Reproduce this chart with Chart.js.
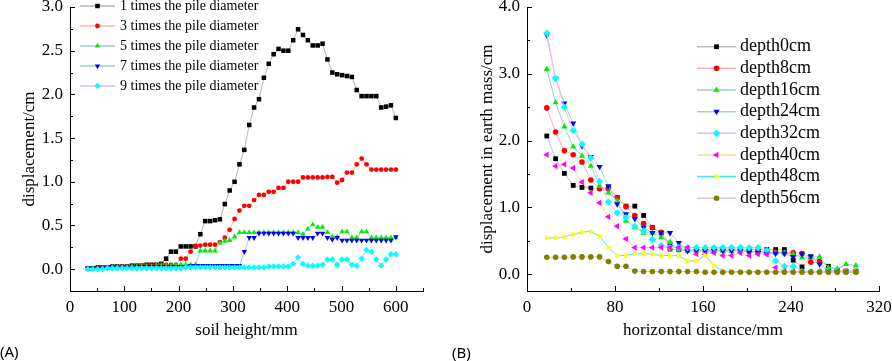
<!DOCTYPE html>
<html>
<head>
<meta charset="utf-8">
<script src="https://cdn.jsdelivr.net/npm/chart.js@4.4.0/dist/chart.umd.min.js"></script>
<style>
  html, body { margin: 0; padding: 0; background: #fff; }
  #wrap { position: relative; width: 892px; height: 361px; }
  .box { position: absolute; top: 0; width: 446px; height: 361px; }
</style>
</head>
<body>
<div id="wrap">
  <div class="box" style="left:0"><canvas id="chartA" width="446" height="361"></canvas></div>
  <div class="box" style="left:446px"><canvas id="chartB" width="446" height="361"></canvas></div>
</div>
<script>
// ---------- panel (A): displacement vs soil height ----------
const soilHeight = [33, 42, 51, 60, 69, 78, 87, 96, 105, 114, 123, 132, 141, 150, 159, 168,
  177, 186, 195, 204, 213, 222, 231, 240, 249, 258, 267, 276, 285, 294, 303, 312,
  321, 330, 339, 348, 357, 366, 375, 384, 393, 402, 411, 420, 429, 438, 447, 456,
  465, 474, 483, 492, 501, 510, 519, 528, 537, 546, 555, 564, 573, 582, 591, 600];

const pile1 = [0.01, 0.01, 0.02, 0.02, 0.02, 0.03, 0.03, 0.03, 0.03, 0.04, 0.04, 0.04, 0.05, 0.05, 0.05, 0.06,
  0.12, 0.20, 0.20, 0.26, 0.26, 0.26, 0.26, 0.40, 0.55, 0.55, 0.56, 0.57, 0.745, 0.90, 1.00, 1.20,
  1.365, 1.65, 1.85, 1.945, 2.19, 2.35, 2.46, 2.52, 2.50, 2.50, 2.62, 2.745, 2.68, 2.62, 2.56, 2.56,
  2.58, 2.40, 2.25, 2.23, 2.22, 2.21, 2.20, 2.05, 1.98, 1.98, 1.98, 1.98, 1.85, 1.86, 1.875, 1.73];
const pile3 = [0.01, 0.01, 0.01, 0.02, 0.02, 0.02, 0.02, 0.03, 0.03, 0.03, 0.03, 0.04, 0.04, 0.04, 0.04, 0.05,
  0.05, 0.05, 0.05, 0.12, 0.12, 0.20, 0.265, 0.27, 0.28, 0.28, 0.28, 0.31, 0.36, 0.45, 0.575, 0.67,
  0.725, 0.725, 0.79, 0.85, 0.85, 0.885, 0.885, 0.93, 0.93, 1.00, 1.00, 1.00, 1.05, 1.05, 1.05, 1.05,
  1.05, 1.055, 1.055, 0.99, 1.02, 1.105, 1.105, 1.20, 1.265, 1.20, 1.14, 1.14, 1.14, 1.14, 1.14, 1.14];
const pile5 = [0.01, 0.01, 0.01, 0.01, 0.02, 0.02, 0.02, 0.02, 0.02, 0.03, 0.03, 0.03, 0.03, 0.03, 0.04, 0.04,
  0.04, 0.04, 0.05, 0.05, 0.05, 0.05, 0.05, 0.21, 0.21, 0.21, 0.21, 0.30, 0.32, 0.33, 0.37, 0.42,
  0.42, 0.42, 0.42, 0.42, 0.42, 0.42, 0.42, 0.42, 0.42, 0.42, 0.42, 0.42, 0.40, 0.46, 0.51, 0.48,
  0.48, 0.42, 0.37, 0.37, 0.43, 0.43, 0.36, 0.36, 0.43, 0.43, 0.36, 0.36, 0.36, 0.36, 0.36, 0.36];
const pile7 = [0.01, 0.01, 0.01, 0.01, 0.02, 0.02, 0.02, 0.02, 0.02, 0.02, 0.03, 0.03, 0.03, 0.03, 0.03, 0.03,
  0.03, 0.03, 0.03, 0.03, 0.03, 0.04, 0.04, 0.04, 0.04, 0.04, 0.04, 0.04, 0.04, 0.04, 0.04, 0.04,
  0.20, 0.36, 0.36, 0.41, 0.41, 0.41, 0.41, 0.41, 0.41, 0.41, 0.41, 0.36, 0.36, 0.36, 0.36, 0.41,
  0.41, 0.36, 0.34, 0.36, 0.33, 0.33, 0.33, 0.33, 0.33, 0.33, 0.33, 0.33, 0.33, 0.33, 0.33, 0.37];
const pile9 = [0.00, 0.00, 0.00, 0.00, 0.01, 0.01, 0.01, 0.01, 0.01, 0.01, 0.01, 0.01, 0.01, 0.01, 0.01, 0.01,
  0.01, 0.01, 0.01, 0.01, 0.02, 0.02, 0.02, 0.02, 0.02, 0.02, 0.02, 0.02, 0.02, 0.02, 0.02, 0.02,
  0.02, 0.02, 0.02, 0.02, 0.02, 0.03, 0.03, 0.03, 0.03, 0.03, 0.06, 0.135, 0.06, 0.04, 0.04, 0.04,
  0.05, 0.11, 0.11, 0.05, 0.11, 0.11, 0.05, 0.04, 0.12, 0.22, 0.20, 0.11, 0.04, 0.11, 0.17, 0.17];

const ticksAx = [0, 100, 200, 300, 400, 500, 600];
const ticksAy = [0, 0.5, 1.0, 1.5, 2.0, 2.5, 3.0];

// ---------- panel (B): displacement vs horizontal distance ----------
const horizDist = [18, 26, 34, 42, 50, 58, 66, 74, 82, 90, 98, 106, 114, 122, 130, 138, 146, 154,
  162, 170, 178, 186, 194, 202, 210, 218, 226, 234, 242, 250, 258, 266, 274, 282, 290, 299];

const depth0 = [2.07, 1.73, 1.51, 1.33, 1.30, 1.29, 1.29, 1.30, 1.15, 1.02, 1.02, 0.88, 0.70, 0.62, 0.45, 0.37, 0.37, 0.36,
  0.37, 0.38, 0.38, 0.38, 0.38, 0.37, 0.37, 0.37, 0.37, 0.37, 0.21, 0.11, 0.26, 0.19, 0.12, 0.06, 0.04, 0.04];
const depth8 = [2.49, 2.13, 1.85, 1.79, 1.68, 1.41, 1.28, 1.28, 1.15, 1.01, 0.88, 0.76, 0.70, 0.63, 0.38, 0.37, 0.36, 0.35,
  0.36, 0.36, 0.36, 0.36, 0.35, 0.34, 0.34, 0.33, 0.33, 0.32, 0.32, 0.31, 0.18, 0.18, 0.06, 0.05, 0.05, 0.05];
const depth16 = [3.07, 2.57, 2.21, 1.91, 1.77, 1.62, 1.32, 1.22, 1.10, 0.80, 0.70, 0.62, 0.62, 0.55, 0.48, 0.37, 0.35, 0.35,
  0.35, 0.35, 0.35, 0.35, 0.35, 0.35, 0.33, 0.33, 0.32, 0.32, 0.30, 0.25, 0.26, 0.26, 0.10, 0.08, 0.15, 0.13];
const depth24 = [3.58, 2.93, 2.56, 2.26, 1.92, 1.76, 1.61, 1.32, 1.05, 0.90, 0.83, 0.70, 0.62, 0.62, 0.62, 0.47, 0.35, 0.35,
  0.35, 0.35, 0.35, 0.35, 0.35, 0.33, 0.32, 0.31, 0.31, 0.31, 0.26, 0.30, 0.27, 0.15, 0.05, 0.04, 0.04, 0.04];
const depth32 = [3.61, 2.93, 2.50, 2.15, 1.95, 1.74, 1.39, 1.08, 0.92, 0.85, 0.72, 0.65, 0.52, 0.43, 0.40, 0.40, 0.40, 0.40,
  0.40, 0.40, 0.40, 0.40, 0.40, 0.40, 0.40, 0.36, 0.20, 0.12, 0.12, 0.04, 0.04, 0.04, 0.04, 0.04, 0.04, 0.04];
const depth40 = [1.79, 1.62, 1.645, 1.59, 1.38, 1.22, 1.07, 0.86, 0.72, 0.53, 0.40, 0.40, 0.40, 0.40, 0.40, 0.40, 0.40, 0.30,
  0.30, 0.32, 0.28, 0.28, 0.32, 0.28, 0.30, 0.30, 0.10, 0.05, 0.04, 0.04, 0.04, 0.04, 0.04, 0.04, 0.04, 0.04];
const depth48 = [0.545, 0.545, 0.56, 0.60, 0.63, 0.64, 0.57, 0.40, 0.28, 0.28, 0.31, 0.31, 0.30, 0.28, 0.28, 0.28, 0.20, 0.20,
  0.28, 0.13, 0.05, 0.04, 0.04, 0.04, 0.04, 0.04, 0.04, 0.04, 0.04, 0.03, 0.03, 0.03, 0.03, 0.03, 0.03, 0.03];
const depth56 = [0.255, 0.255, 0.255, 0.26, 0.26, 0.26, 0.26, 0.19, 0.12, 0.12, 0.05, 0.04, 0.04, 0.04, 0.04, 0.04, 0.04, 0.04,
  0.03, 0.03, 0.03, 0.03, 0.03, 0.03, 0.03, 0.03, 0.03, 0.03, 0.03, 0.03, 0.03, 0.03, 0.03, 0.03, 0.03, 0.03];

const ticksBx = [0, 80, 160, 240, 320];
const ticksBy = [0, 1.0, 2.0, 3.0, 4.0];

const serif = '"Liberation Serif", "Times New Roman", serif';

// pairs x values with y values for a scatter-style line
function pts(xs, ys) {
  return ys.map((y, i) => ({ x: xs[i], y: y }));
}

// idx: position in the list, later series are painted on top (like Origin)
function series(idx, label, xs, ys, line, mark, style, r, rot) {
  return {
    label: label,
    data: pts(xs, ys),
    order: -idx,
    borderColor: line,
    borderWidth: 1,
    pointBackgroundColor: mark,
    pointBorderColor: mark,
    pointBorderWidth: 0,
    pointStyle: style,
    pointRadius: r,
    pointRotation: rot || 0,
    pointHoverRadius: r,
    tension: 0,
    fill: false
  };
}

// inward major + minor tick marks (Origin style)
const inTicks = {
  id: 'inTicks',
  afterDraw(chart, args, o) {
    const ctx = chart.ctx, a = chart.chartArea;
    const xs = chart.scales.x, ys = chart.scales.y;
    ctx.save();
    ctx.strokeStyle = '#000';
    ctx.lineWidth = 1;
    ctx.beginPath();
    const hx = o.xStep / 2;
    for (let v = Math.ceil(xs.min / hx) * hx; v <= xs.max + 1e-9; v += hx) {
      const p = Math.round(xs.getPixelForValue(v)) + 0.5;
      const len = Math.abs(v / o.xStep - Math.round(v / o.xStep)) < 1e-6 ? 5 : 3;
      ctx.moveTo(p, a.bottom);
      ctx.lineTo(p, a.bottom - len);
    }
    const hy = o.yStep / 2;
    for (let v = Math.ceil(ys.min / hy - 1e-9) * hy; v <= ys.max + 1e-9; v += hy) {
      const p = Math.round(ys.getPixelForValue(v)) + 0.5;
      const len = Math.abs(v / o.yStep - Math.round(v / o.yStep)) < 1e-6 ? 5 : 3;
      ctx.moveTo(a.left, p);
      ctx.lineTo(a.left + len, p);
    }
    ctx.stroke();
    ctx.restore();
  }
};

// legend with a line segment and centred marker
const lineLegend = {
  id: 'lineLegend',
  afterDraw(chart, args, o) {
    const ctx = chart.ctx;
    ctx.save();
    ctx.font = o.font;
    ctx.textBaseline = 'middle';
    chart.data.datasets.forEach((ds, i) => {
      const y = o.y + i * o.dy;
      ctx.strokeStyle = ds.borderColor;
      ctx.lineWidth = 1.5;
      ctx.beginPath();
      ctx.moveTo(o.x, y);
      ctx.lineTo(o.x + o.len, y);
      ctx.stroke();
      ctx.fillStyle = ds.pointBackgroundColor;
      ctx.strokeStyle = ds.pointBorderColor;
      Chart.helpers.drawPoint(ctx, {
        pointStyle: ds.pointStyle, radius: ds.pointRadius, rotation: ds.pointRotation, borderWidth: 0
      }, o.x + o.len / 2, y);
      ctx.fillStyle = '#000';
      ctx.textAlign = 'left';
      ctx.fillText(ds.label, o.x + o.len + o.gap, y);
    });
    ctx.restore();
  }
};

// panel letter under the chart
const panelTag = {
  id: 'panelTag',
  afterDraw(chart, args, o) {
    const ctx = chart.ctx;
    ctx.save();
    ctx.font = '15px "Noto Sans", "DejaVu Sans", sans-serif';
    ctx.fillStyle = '#000';
    ctx.textBaseline = 'alphabetic';
    ctx.fillText(o.text, o.x, o.y);
    ctx.restore();
  }
};

function axes(xMin, xMax, xTicks, xTitle, yMin, yMax, yTicks, yTitle, yWidth, yTitlePad) {
  return {
    x: {
      type: 'linear', min: xMin, max: xMax,
      afterBuildTicks: s => { s.ticks = xTicks.map(v => ({ value: v })); },
      // fixed axis band, and no extra edge padding for the end labels
      afterFit: s => { s.height = 70; s.paddingLeft = 0; s.paddingRight = 0; },
      grid: { display: false, drawTicks: false },
      border: { display: true, color: '#000', width: 1 },
      ticks: { color: '#000', padding: 6, font: { family: serif, size: 17 }, maxRotation: 0,
        callback: v => String(v) },
      title: { display: true, text: xTitle, color: '#000', font: { family: serif, size: 17 },
        padding: { top: 0, bottom: 20 } }
    },
    y: {
      type: 'linear', min: yMin, max: yMax,
      afterBuildTicks: s => { s.ticks = yTicks.map(v => ({ value: v })); },
      afterFit: s => { s.width = yWidth; s.paddingTop = 0; s.paddingBottom = 0; },
      grid: { display: false, drawTicks: false },
      border: { display: true, color: '#000', width: 1 },
      ticks: { color: '#000', padding: 7, font: { family: serif, size: 17 },
        callback: v => Number(v).toFixed(1) },
      title: { display: true, text: yTitle, color: '#000', font: { family: serif, size: 17 },
        padding: { top: yTitlePad, bottom: 0 } }
    }
  };
}

let chartA = new Chart(document.getElementById('chartA').getContext('2d'), {
  type: 'line',
  data: {
    datasets: [
      series(0, '1 times the pile diameter', soilHeight, pile1, '#b4b4b4', '#000000', 'rect', 3.2),
      series(1, '3 times the pile diameter', soilHeight, pile3, '#ffb4b4', '#ff0000', 'circle', 2.4),
      series(2, '5 times the pile diameter', soilHeight, pile5, '#9cc4ee', '#00ee00', 'triangle', 3.2),
      series(3, '7 times the pile diameter', soilHeight, pile7, '#96d6c6', '#0000ff', 'triangle', 3.2, 180),
      series(4, '9 times the pile diameter', soilHeight, pile9, '#e6b6ee', '#00ffff', 'rectRot', 3.2)
    ]
  },
  options: {
    responsive: false,
    animation: false,
    layout: { autoPadding: false, padding: { left: 0, right: 23, top: 7, bottom: 0 } },
    scales: axes(0, 650, ticksAx, 'soil height/mm', -0.25, 3.0, ticksAy, 'displacement/cm', 70, 19),
    plugins: {
      legend: { display: false },
      tooltip: { enabled: false },
      inTicks: { xStep: 100, yStep: 0.5 },
      lineLegend: { x: 80, y: 6, dy: 20, len: 35, gap: 5, font: '14px ' + serif },
      panelTag: { text: '(A)', x: 0, y: 357 }
    }
  },
  plugins: [inTicks, lineLegend, panelTag]
});

let chartB = new Chart(document.getElementById('chartB').getContext('2d'), {
  type: 'line',
  data: {
    datasets: [
      series(0, 'depth0cm', horizDist, depth0, '#c0c0c0', '#000000', 'rect', 3.4),
      series(1, 'depth8cm', horizDist, depth8, '#ffb0b0', '#ff0000', 'circle', 2.8),
      series(2, 'depth16cm', horizDist, depth16, '#9cc6f0', '#00ee00', 'triangle', 3.6),
      series(3, 'depth24cm', horizDist, depth24, '#9cd8c4', '#0000ff', 'triangle', 3.6, 180),
      series(4, 'depth32cm', horizDist, depth32, '#ecb8f2', '#00ffff', 'rectRot', 3.6),
      series(5, 'depth40cm', horizDist, depth40, '#f2d8a4', '#ff00ff', 'triangle', 3.6, 270),
      series(6, 'depth48cm', horizDist, depth48, '#44e6e6', '#ffff00', 'triangle', 3.6, 90),
      series(7, 'depth56cm', horizDist, depth56, '#e2c2c2', '#808000', 'circle', 2.8)
    ]
  },
  options: {
    responsive: false,
    animation: false,
    layout: { autoPadding: false, padding: { left: 0, right: 13, top: 7, bottom: 0 } },
    scales: axes(0, 320, ticksBx, 'horizontal distance/mm', -0.25, 4.0, ticksBy, 'displacement in earth mass/cm', 81, 31),
    plugins: {
      legend: { display: false },
      tooltip: { enabled: false },
      inTicks: { xStep: 80, yStep: 1.0 },
      lineLegend: { x: 251, y: 46.7, dy: 21.65, len: 39, gap: 4, font: '18px ' + serif },
      panelTag: { text: '(B)', x: 6, y: 358 }
    }
  },
  plugins: [inTicks, lineLegend, panelTag]
});
</script>
</body>
</html>
